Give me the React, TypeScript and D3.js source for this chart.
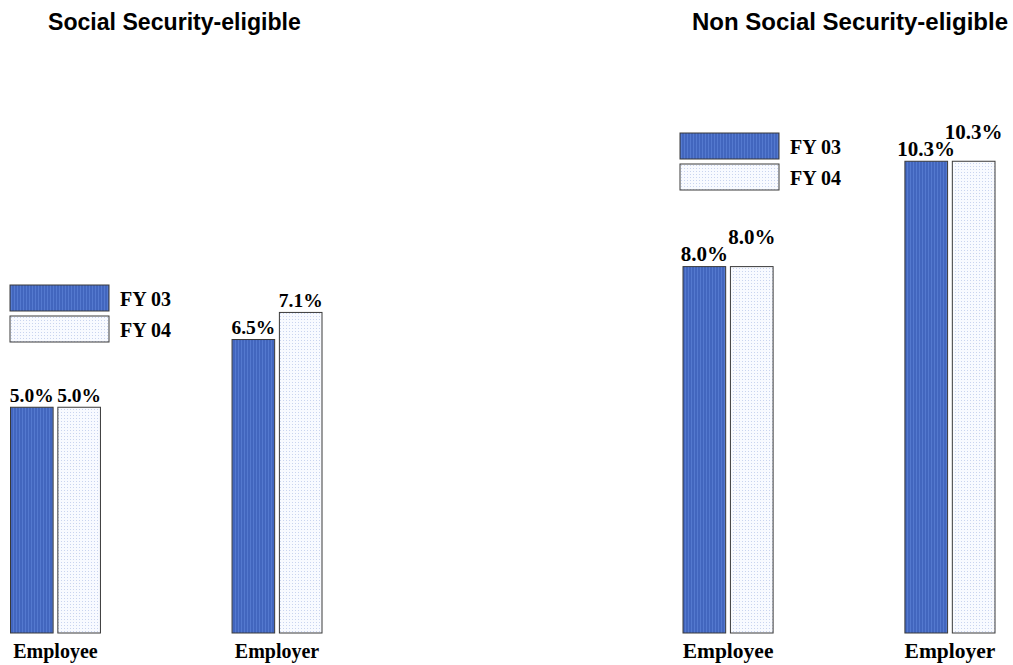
import React from 'react';
import * as d3 from 'd3';

const categories = ['Employee', 'Employer'];
const seriesNames = ['FY 03', 'FY 04'];
const ssEligibleFY03 = [5.0, 6.5];
const ssEligibleFY04 = [5.0, 7.1];
const nonSsEligibleFY03 = [8.0, 10.3];
const nonSsEligibleFY04 = [8.0, 10.3];
const panelTitles = ['Social Security-eligible', 'Non Social Security-eligible'];

const W = 1013;
const H = 665;
const BASE = 633;
const SERIF = '"Liberation Serif", "Times New Roman", serif';
const SANS = '"Liberation Sans", Arial, sans-serif';

const fmt = (v: number) => d3.format('.1f')(v) + '%';

type Panel = {
  title: string;
  titleX: number;
  titleAnchor: 'start' | 'end';
  titleSize: number;
  s03: number[];
  s04: number[];
  xRange: [number, number];
  pxPerUnit: number;
  labelSize: number;
  catSize: number;
  legendX: number;
  legendY: number;
  legendGap: number;
  stagger: boolean;
};

const panels: Panel[] = [
  {
    title: panelTitles[0], titleX: 48, titleAnchor: 'start', titleSize: 23.1,
    s03: ssEligibleFY03, s04: ssEligibleFY04,
    xRange: [10.5, 322], pxPerUnit: 45.15,
    labelSize: 19.5, catSize: 20,
    legendX: 10, legendY: 285, legendGap: 31, stagger: false,
  },
  {
    title: panelTitles[1], titleX: 1008, titleAnchor: 'end', titleSize: 24,
    s03: nonSsEligibleFY03, s04: nonSsEligibleFY04,
    xRange: [683, 995], pxPerUnit: 45.8,
    labelSize: 21, catSize: 21.5,
    legendX: 680, legendY: 133, legendGap: 31, stagger: true,
  },
];

const fills = ['url(#patFY03)', 'url(#patFY04)'];

function PanelChart({ p }: { p: Panel }) {
  const x0 = d3.scaleBand<string>().domain(categories).range(p.xRange).paddingInner(0.594).paddingOuter(0);
  const x1 = d3.scaleBand<string>().domain(seriesNames).range([0, x0.bandwidth()]).paddingInner(0.1);
  const y = d3.scaleLinear().domain([0, 10]).range([BASE, BASE - p.pxPerUnit * 10]);
  const series = [p.s03, p.s04];
  return (
    <g>
      <text x={p.titleX} y={30} textAnchor={p.titleAnchor} fontFamily={SANS} fontWeight="bold" fontSize={p.titleSize} fill="#000">
        {p.title}
      </text>
      {categories.map((c, ci) => (
        <g key={c}>
          {seriesNames.map((s, si) => {
            const v = series[si][ci];
            const bx = (x0(c) ?? 0) + (x1(s) ?? 0);
            const bw = x1.bandwidth();
            const raise = p.stagger && si === 1 ? 17 : 0;
            return (
              <g key={s}>
                <rect x={bx} y={y(v)} width={bw} height={BASE - y(v)} fill={fills[si]} stroke="#3a3a3a" strokeWidth={1} />
                <text x={bx + bw / 2} y={y(v) - 5.5 - raise} textAnchor="middle" fontFamily={SERIF} fontWeight="bold" fontSize={p.labelSize} fill="#000">
                  {fmt(v)}
                </text>
              </g>
            );
          })}
          <text x={(x0(c) ?? 0) + x0.bandwidth() / 2} y={658} textAnchor="middle" fontFamily={SERIF} fontWeight="bold" fontSize={p.catSize} fill="#000">
            {c}
          </text>
        </g>
      ))}
      {seriesNames.map((s, si) => (
        <g key={'lg' + s} transform={`translate(${p.legendX},${p.legendY + si * p.legendGap})`}>
          <rect x={0} y={0} width={99} height={26} fill={fills[si]} stroke="#3a3a3a" strokeWidth={1} />
          <text x={110} y={21} fontFamily={SERIF} fontWeight="bold" fontSize={20} fill="#000">
            {s}
          </text>
        </g>
      ))}
    </g>
  );
}

export default function App() {
  return (
    <svg width={W} height={H} style={{ position: 'absolute', left: 0, top: 0, background: '#fff' }}>
      <defs>
        <pattern id="patFY03" width={3} height={3} patternUnits="userSpaceOnUse">
          <rect width={3} height={3} fill="#4266be" />
          <rect x={1} width={1} height={3} fill="#5479cf" />
        </pattern>
        <pattern id="patFY04" width={3} height={3} patternUnits="userSpaceOnUse">
          <rect width={3} height={3} fill="#f8faff" />
          <rect x={1} y={1} width={1} height={1} fill="#c9d4ef" />
        </pattern>
      </defs>
      <rect width={W} height={H} fill="#fff" />
      {panels.map((p, i) => (
        <PanelChart key={i} p={p} />
      ))}
    </svg>
  );
}
